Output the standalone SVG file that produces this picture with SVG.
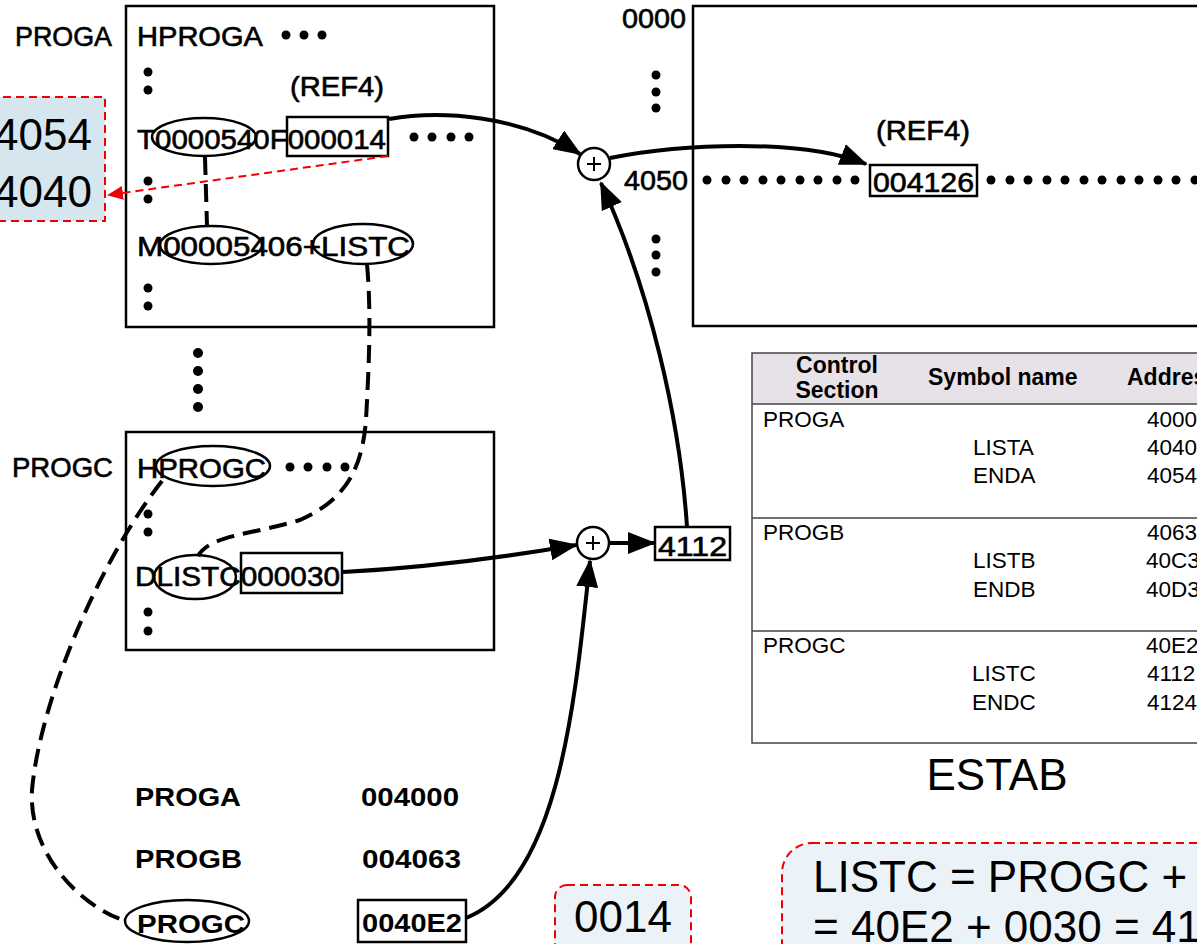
<svg xmlns="http://www.w3.org/2000/svg" width="1197" height="944" viewBox="0 0 1197 944">
<style>
.t{font-family:"Liberation Sans",Arial,sans-serif;font-size:27px;fill:#000;stroke:#000;stroke-width:0.6px}
.b{font-family:"Liberation Sans",Arial,sans-serif;font-size:26px;font-weight:bold;fill:#000}
.box{fill:none;stroke:#000;stroke-width:2.5}
.ell{fill:none;stroke:#000;stroke-width:2.5}
.dot{fill:#000}
.arr{fill:none;stroke:#000;stroke-width:4;marker-end:url(#ah)}
.dash{fill:none;stroke:#000;stroke-width:4;stroke-dasharray:18 9}
.tb{font-family:"Liberation Sans",Arial,sans-serif;font-size:22.5px;fill:#000}
.th{font-family:"Liberation Sans",Arial,sans-serif;font-size:23px;font-weight:bold;fill:#000}
.note{fill:#d6e6ef;stroke:#e00;stroke-width:2;stroke-dasharray:8 5}
.nt{font-family:"Liberation Sans",Arial,sans-serif;font-size:44px;fill:#000}
</style>
<defs>
<marker id="ah" markerUnits="userSpaceOnUse" markerWidth="28" markerHeight="22" refX="26" refY="11" orient="auto"><path d="M0,0 L28,11 L0,22 z" fill="#000"/></marker>
<marker id="rh" markerUnits="userSpaceOnUse" markerWidth="16" markerHeight="14" refX="15" refY="7" orient="auto"><path d="M0,0 L16,7 L0,14 z" fill="#e00"/></marker>
</defs>
<rect width="1197" height="944" fill="#fff"/>

<g id="proga">
<rect class="box" x="126" y="6" width="368" height="321"/>
<text class="t" x="15" y="46" textLength="97" lengthAdjust="spacingAndGlyphs">PROGA</text>
<text class="t" x="137" y="46" textLength="126" lengthAdjust="spacingAndGlyphs">HPROGA</text>
<circle class="dot" cx="286" cy="35" r="4.5"/><circle class="dot" cx="304" cy="35" r="4.5"/><circle class="dot" cx="322" cy="35" r="4.5"/>
<circle class="dot" cx="148" cy="72" r="4.5"/><circle class="dot" cx="148" cy="90" r="4.5"/>
<text class="t" x="290" y="96" textLength="94" lengthAdjust="spacingAndGlyphs">(REF4)</text>
<text class="t" x="137" y="149" textLength="249" lengthAdjust="spacingAndGlyphs">T0000540F000014</text>
<ellipse class="ell" cx="204" cy="137" rx="52" ry="19"/>
<rect class="box" x="287" y="117" width="101" height="39"/>
<circle class="dot" cx="414" cy="137" r="4.5"/><circle class="dot" cx="432" cy="137" r="4.5"/><circle class="dot" cx="451" cy="137" r="4.5"/><circle class="dot" cx="469" cy="137" r="4.5"/>
<circle class="dot" cx="148" cy="181" r="4.5"/><circle class="dot" cx="148" cy="199" r="4.5"/>
<text class="t" x="137" y="256" textLength="273" lengthAdjust="spacingAndGlyphs">M00005406+LISTC</text>
<ellipse class="ell" cx="211" cy="245" rx="51" ry="19"/>
<ellipse class="ell" cx="363" cy="244" rx="50" ry="20"/>
<circle class="dot" cx="148" cy="288" r="4.5"/><circle class="dot" cx="148" cy="306" r="4.5"/>
</g>

<g id="gapdots">
<circle class="dot" cx="198" cy="353" r="5"/><circle class="dot" cx="198" cy="371" r="5"/><circle class="dot" cx="198" cy="389" r="5"/><circle class="dot" cx="198" cy="407" r="5"/>
</g>

<g id="progc">
<rect class="box" x="126" y="432" width="368" height="218"/>
<text class="t" x="12" y="477" textLength="101" lengthAdjust="spacingAndGlyphs">PROGC</text>
<text class="t" x="137" y="478" textLength="129" lengthAdjust="spacingAndGlyphs">HPROGC</text>
<ellipse class="ell" cx="213" cy="466" rx="57" ry="20"/>
<circle class="dot" cx="290" cy="467" r="4.5"/><circle class="dot" cx="308" cy="467" r="4.5"/><circle class="dot" cx="327" cy="467" r="4.5"/><circle class="dot" cx="345" cy="467" r="4.5"/>
<circle class="dot" cx="148" cy="514" r="4.5"/><circle class="dot" cx="148" cy="532" r="4.5"/>
<text class="t" x="135" y="586" textLength="205" lengthAdjust="spacingAndGlyphs">DLISTC000030</text>
<ellipse class="ell" cx="195" cy="577" rx="41" ry="22"/>
<rect class="box" x="241" y="553" width="101" height="40"/>
<circle class="dot" cx="148" cy="612" r="4.5"/><circle class="dot" cx="148" cy="631" r="4.5"/>
</g>

<g id="memory">
<rect class="box" x="693" y="6" width="520" height="320"/>
<text class="t" x="622" y="28" textLength="64" lengthAdjust="spacingAndGlyphs">0000</text>
<circle class="dot" cx="656" cy="75" r="4.5"/><circle class="dot" cx="656" cy="92" r="4.5"/><circle class="dot" cx="656" cy="108" r="4.5"/>
<text class="t" x="876" y="140" textLength="94" lengthAdjust="spacingAndGlyphs">(REF4)</text>
<text class="t" x="624" y="190" textLength="64" lengthAdjust="spacingAndGlyphs">4050</text>
<g class="dot">
<circle cx="707" cy="180" r="4.5"/><circle cx="726" cy="180" r="4.5"/><circle cx="744" cy="180" r="4.5"/><circle cx="763" cy="180" r="4.5"/><circle cx="781" cy="180" r="4.5"/><circle cx="800" cy="180" r="4.5"/><circle cx="818" cy="180" r="4.5"/><circle cx="837" cy="180" r="4.5"/><circle cx="855" cy="180" r="4.5"/>
<circle cx="991" cy="180" r="4.5"/><circle cx="1010" cy="180" r="4.5"/><circle cx="1028" cy="180" r="4.5"/><circle cx="1047" cy="180" r="4.5"/><circle cx="1065" cy="180" r="4.5"/><circle cx="1084" cy="180" r="4.5"/><circle cx="1102" cy="180" r="4.5"/><circle cx="1121" cy="180" r="4.5"/><circle cx="1139" cy="180" r="4.5"/><circle cx="1158" cy="180" r="4.5"/><circle cx="1176" cy="180" r="4.5"/><circle cx="1195" cy="180" r="4.5"/>
</g>
<rect class="box" x="870" y="165" width="107" height="31"/>
<text class="t" x="873" y="192" textLength="101" lengthAdjust="spacingAndGlyphs">004126</text>
<circle class="dot" cx="656" cy="239" r="4.5"/><circle class="dot" cx="656" cy="255" r="4.5"/><circle class="dot" cx="656" cy="272" r="4.5"/>
</g>

<g id="plus1">
<circle cx="594" cy="164" r="16" fill="#fff" stroke="#000" stroke-width="2.5"/>
<path d="M587,164 H601 M594,157 V171" stroke="#000" stroke-width="2"/>
</g>
<g id="plus2">
<circle cx="593" cy="543" r="16" fill="#fff" stroke="#000" stroke-width="2.5"/>
<path d="M586,543 H600 M593,536 V550" stroke="#000" stroke-width="2"/>
</g>
<g id="val4112">
<rect class="box" x="655" y="527" width="75" height="33"/>
<text class="t" x="658" y="556" textLength="69" lengthAdjust="spacingAndGlyphs">4112</text>
</g>

<g id="loadmap">
<text class="b" x="135" y="806" textLength="106" lengthAdjust="spacingAndGlyphs">PROGA</text>
<text class="b" x="361" y="806" textLength="98" lengthAdjust="spacingAndGlyphs">004000</text>
<text class="b" x="135" y="868" textLength="107" lengthAdjust="spacingAndGlyphs">PROGB</text>
<text class="b" x="362" y="868" textLength="99" lengthAdjust="spacingAndGlyphs">004063</text>
<text class="b" x="137" y="933" textLength="108" lengthAdjust="spacingAndGlyphs">PROGC</text>
<ellipse class="ell" cx="187" cy="921" rx="62" ry="21"/>
<rect class="box" x="358" y="900" width="108" height="42"/>
<text class="b" x="362" y="932" textLength="100" lengthAdjust="spacingAndGlyphs">0040E2</text>
</g>

<g id="connectors">
<path class="arr" d="M389,119 C440,110 520,115 580,154"/>
<path class="arr" d="M610,158 C680,144 800,138 866,164"/>
<path class="arr" d="M687,527 C680,420 650,290 601,183"/>
<path class="arr" d="M343,572 C420,568 500,558 576,545"/>
<path class="arr" d="M609,543 L654,543"/>
<path class="arr" d="M466,918 C560,880 575,700 590,561"/>
<path class="dash" d="M205,157 L207,226"/>
<path class="dash" d="M367,264 C372,320 368,380 366,420 C362,470 345,500 300,520 C250,535 210,535 198,556"/>
<path class="dash" d="M162,481 C100,560 40,700 32,790 C28,860 90,912 127,921"/>
<path d="M388,156 L108,195" fill="none" stroke="#e00" stroke-width="2" stroke-dasharray="8 5" marker-end="url(#rh)"/>
</g>

<g id="note-left">
<rect class="note" x="-10" y="97" width="115" height="124"/>
<text class="nt" x="92" y="150" text-anchor="end">4054</text>
<text class="nt" x="92" y="207" text-anchor="end">4040</text>
</g>

<g id="estab">
<rect x="752" y="353" width="470" height="51" fill="#e6e2e8"/>
<rect x="752" y="353" width="470" height="390" fill="none" stroke="#444" stroke-width="1.5"/>
<path d="M752,404 H1222 M752,518 H1222 M752,631 H1222" stroke="#444" stroke-width="1.5"/>
<text class="th" x="837" y="373" text-anchor="middle">Control</text>
<text class="th" x="837" y="398" text-anchor="middle">Section</text>
<text class="th" x="928" y="385">Symbol name</text>
<text class="th" x="1127" y="385">Address</text>
<text class="tb" x="763" y="427">PROGA</text><text class="tb" x="1147" y="427">4000</text>
<text class="tb" x="973" y="455">LISTA</text><text class="tb" x="1147" y="455">4040</text>
<text class="tb" x="973" y="483">ENDA</text><text class="tb" x="1147" y="483">4054</text>
<text class="tb" x="763" y="540">PROGB</text><text class="tb" x="1147" y="540">4063</text>
<text class="tb" x="973" y="568">LISTB</text><text class="tb" x="1146" y="568">40C3</text>
<text class="tb" x="973" y="597">ENDB</text><text class="tb" x="1146" y="597">40D3</text>
<text class="tb" x="763" y="653">PROGC</text><text class="tb" x="1146" y="653">40E2</text>
<text class="tb" x="972" y="681">LISTC</text><text class="tb" x="1147" y="681">4112</text>
<text class="tb" x="972" y="710">ENDC</text><text class="tb" x="1147" y="710">4124</text>
<text class="nt" x="997" y="790" text-anchor="middle">ESTAB</text>
</g>

<g id="note-0014">
<rect x="555" y="885" width="136" height="80" rx="12" fill="#ecf3f8" stroke="#e00" stroke-width="2" stroke-dasharray="8 5"/>
<text class="nt" x="623" y="932" text-anchor="middle" font-size="40">0014</text>
</g>

<g id="note-listc">
<rect x="782" y="843" width="460" height="140" rx="30" fill="#ecf3f8" stroke="#e00" stroke-width="2" stroke-dasharray="8 5"/>
<text class="nt" x="813" y="892" font-size="40">LISTC = PROGC + 0030</text>
<text class="nt" x="813" y="942" font-size="40">= 40E2 + 0030 = 4112</text>
</g>
</svg>
